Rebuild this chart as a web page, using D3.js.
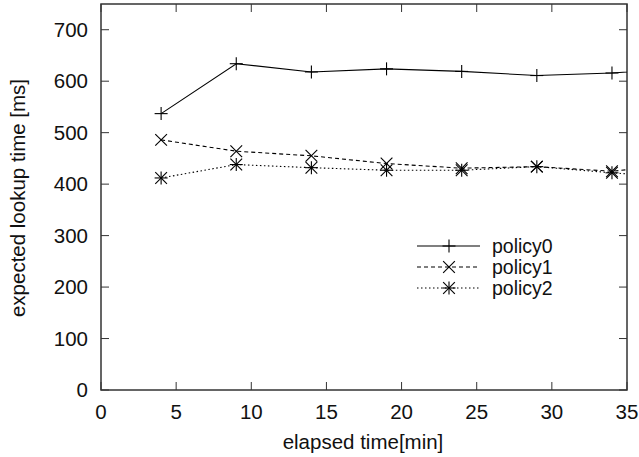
<!DOCTYPE html>
<html><head><meta charset="utf-8">
<script src="https://cdn.jsdelivr.net/npm/d3@7"></script>
<style>body{margin:0;background:#fff}svg{display:block}text{font-family:"Liberation Sans",Arial,Helvetica,sans-serif;fill:#111}</style>
</head><body><svg id="c" width="639" height="457"></svg>
<script>
const xValues = [4, 9, 14, 19, 24, 29, 34, 39];
const policy0 = [537, 634, 618, 624, 619, 611, 616, 626];
const policy1 = [486, 464, 455, 440, 431, 434, 425, 440];
const policy2 = [412, 438, 432, 427, 427, 434, 422, 412];
const seriesNames = ["policy0", "policy1", "policy2"];
const xTicks = [0, 5, 10, 15, 20, 25, 30, 35];
const yTicks = [0, 100, 200, 300, 400, 500, 600, 700];

const svg = d3.select("#c");
const L = 101, R = 627, T = 4, B = 390;
const FS = 20.5;
const x = d3.scaleLinear().domain([0, 35]).range([L, R]);
const y = d3.scaleLinear().domain([0, 750]).range([B, T]);

svg.append("defs").append("clipPath").attr("id", "clip")
  .append("rect").attr("x", L).attr("y", T).attr("width", R - L).attr("height", B - T);

// ticks (inward, mirrored)
const tl = 8;
const g = svg.append("g").attr("stroke", "#333").attr("stroke-width", 1);
xTicks.forEach(t => {
  g.append("line").attr("x1", x(t)).attr("x2", x(t)).attr("y1", B).attr("y2", B - tl);
  g.append("line").attr("x1", x(t)).attr("x2", x(t)).attr("y1", T).attr("y2", T + tl);
});
yTicks.forEach(t => {
  g.append("line").attr("x1", L).attr("x2", L + tl).attr("y1", y(t)).attr("y2", y(t));
  g.append("line").attr("x1", R).attr("x2", R - tl).attr("y1", y(t)).attr("y2", y(t));
});
svg.append("rect").attr("x", L).attr("y", T).attr("width", R - L).attr("height", B - T)
  .attr("fill", "none").attr("stroke", "#333").attr("stroke-width", 1.5);

// tick labels
svg.append("g").selectAll("text").data(xTicks).join("text")
  .attr("x", d => x(d)).attr("y", 419).attr("text-anchor", "middle")
  .attr("font-size", FS).text(d => d);
svg.append("g").selectAll("text").data(yTicks).join("text")
  .attr("x", 88).attr("y", d => y(d) + 7).attr("text-anchor", "end")
  .attr("font-size", FS).text(d => d);

svg.append("text").attr("x", 363).attr("y", 449).attr("text-anchor", "middle")
  .attr("font-size", FS).text("elapsed time[min]");
svg.append("text").attr("transform", "translate(25,198) rotate(-90)")
  .attr("text-anchor", "middle").attr("font-size", FS).text("expected lookup time [ms]");

const series = [policy0, policy1, policy2];
const dashes = [null, "4,3", "1.5,2.5"];
const S = 6.5;
function marker(sel, i, cx, cy) {
  const p = sel.append("g").attr("stroke", "#000").attr("stroke-width", 1.1).attr("fill", "none");
  if (i === 0 || i === 2) {
    p.append("line").attr("x1", cx - S).attr("x2", cx + S).attr("y1", cy).attr("y2", cy);
    p.append("line").attr("x1", cx).attr("x2", cx).attr("y1", cy - S).attr("y2", cy + S);
  }
  if (i === 1 || i === 2) {
    const d = S * 0.9;
    p.append("line").attr("x1", cx - d).attr("x2", cx + d).attr("y1", cy - d).attr("y2", cy + d);
    p.append("line").attr("x1", cx - d).attr("x2", cx + d).attr("y1", cy + d).attr("y2", cy - d);
  }
}
const line = d3.line().x((d, i) => x(xValues[i])).y(d => y(d));
const plot = svg.append("g");
series.forEach((s, i) => {
  plot.append("path").datum(s).attr("d", line).attr("fill", "none")
    .attr("stroke", "#000").attr("stroke-width", 1.1)
    .attr("stroke-dasharray", dashes[i]).attr("clip-path", "url(#clip)");
  s.forEach((v, j) => {
    if (xValues[j] <= 35) marker(plot, i, x(xValues[j]), y(v));
  });
});

// legend
const lg = svg.append("g");
seriesNames.forEach((n, i) => {
  const ly = 246 + i * 21;
  lg.append("line").attr("x1", 417).attr("x2", 480).attr("y1", ly).attr("y2", ly)
    .attr("stroke", "#000").attr("stroke-width", 1.1).attr("stroke-dasharray", dashes[i]);
  marker(lg, i, 449, ly);
  lg.append("text").attr("x", 492).attr("y", ly + 7).attr("font-size", 19.5).text(n);
});
</script></body></html>
